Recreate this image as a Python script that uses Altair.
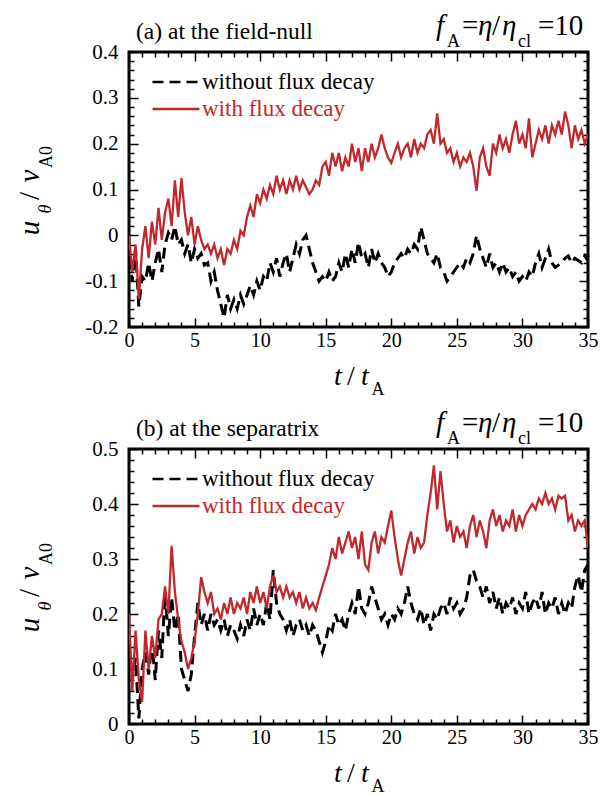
import altair as alt
import pandas as pd

# ---------------- data ----------------
T_STEP = 0.25
t_vals = [round(i * T_STEP, 2) for i in range(141)]

# panel (a) at the field-null
a_with = [
    0.0, -0.08, -0.02, -0.14,
    -0.03, 0.02, -0.05, 0.03,
    -0.02, 0.06, -0.01, 0.05,
    0.08, 0.02, 0.12, 0.04,
    0.125, 0.05, 0.0, 0.04,
    -0.02, 0.02, -0.01, -0.03,
    -0.02, -0.04, -0.02, -0.05,
    -0.03, -0.065, -0.03, -0.04,
    -0.01, -0.03, 0.01, 0.0,
    0.04, 0.065, 0.04, 0.09,
    0.07, 0.1, 0.08, 0.11,
    0.09, 0.13, 0.1, 0.12,
    0.09, 0.12, 0.1, 0.13,
    0.1, 0.12, 0.105, 0.09,
    0.1, 0.12, 0.11, 0.15,
    0.16, 0.13, 0.18, 0.15,
    0.18, 0.14, 0.17, 0.15,
    0.2, 0.16, 0.19, 0.14,
    0.19, 0.16, 0.2, 0.17,
    0.19, 0.22, 0.19, 0.17,
    0.158, 0.18, 0.2, 0.17,
    0.19, 0.2, 0.17, 0.21,
    0.18, 0.2, 0.19, 0.22,
    0.23, 0.2, 0.266, 0.2,
    0.21, 0.18, 0.19, 0.16,
    0.18, 0.15, 0.17, 0.16,
    0.18, 0.15, 0.097, 0.17,
    0.19, 0.15, 0.13, 0.2,
    0.18, 0.22, 0.19, 0.21,
    0.18, 0.22, 0.25, 0.2,
    0.22, 0.19, 0.255, 0.17,
    0.2, 0.23, 0.21, 0.24,
    0.2, 0.24, 0.22, 0.25,
    0.22, 0.27, 0.24, 0.19,
    0.24, 0.21, 0.23, 0.2,
    0.22,
]
a_without = [
    -0.05, -0.1, -0.03, -0.155,
    -0.09, -0.1, -0.06, -0.1,
    -0.06, -0.03, -0.08, -0.02,
    0.005, -0.01, 0.02, -0.02,
    -0.01, -0.04, -0.02, -0.06,
    -0.03, -0.05, -0.04, -0.065,
    -0.06, -0.1, -0.08, -0.12,
    -0.15, -0.18, -0.13, -0.16,
    -0.14, -0.16, -0.13, -0.15,
    -0.13, -0.11, -0.13, -0.1,
    -0.12, -0.09, -0.1, -0.06,
    -0.08, -0.05, -0.09, -0.06,
    -0.04, -0.08, -0.05, -0.02,
    -0.04, -0.01, 0.0, -0.03,
    -0.06, -0.08, -0.1, -0.09,
    -0.1, -0.08, -0.1, -0.09,
    -0.06, -0.08, -0.04, -0.07,
    -0.03, -0.06, -0.015, -0.05,
    -0.04, -0.07, -0.03, -0.06,
    -0.04, -0.06, -0.07, -0.09,
    -0.08, -0.06, -0.05, -0.04,
    -0.05, -0.03, -0.04, -0.02,
    -0.03, 0.018, -0.01, -0.04,
    -0.05, -0.06, -0.04, -0.07,
    -0.08, -0.1, -0.09, -0.08,
    -0.07, -0.06, -0.07, -0.05,
    -0.06, -0.04, 0.0, -0.03,
    -0.05, -0.07, -0.04, -0.07,
    -0.06, -0.08, -0.06, -0.08,
    -0.07, -0.09, -0.08, -0.1,
    -0.09, -0.1, -0.08, -0.09,
    -0.06, -0.04, -0.07, -0.05,
    -0.03, -0.06, -0.07, -0.065,
    -0.06, -0.05, -0.045, -0.06,
    -0.05, -0.055, -0.06, -0.045,
    -0.055,
]

# panel (b) at the separatrix
b_with = [
    0.2, 0.06, 0.17, 0.08,
    0.04, 0.17, 0.1, 0.16,
    0.12, 0.19, 0.2, 0.25,
    0.2, 0.324, 0.24, 0.19,
    0.15, 0.13, 0.1, 0.12,
    0.15, 0.2, 0.267, 0.24,
    0.22, 0.24, 0.2, 0.21,
    0.19, 0.22, 0.2, 0.23,
    0.2, 0.22, 0.21, 0.23,
    0.2, 0.24, 0.22, 0.25,
    0.22, 0.24, 0.21, 0.25,
    0.27, 0.24, 0.25, 0.23,
    0.25, 0.23, 0.24, 0.22,
    0.24, 0.21, 0.23, 0.21,
    0.22, 0.207, 0.23, 0.25,
    0.27, 0.29, 0.32, 0.3,
    0.34, 0.31, 0.33, 0.35,
    0.32, 0.34, 0.3, 0.35,
    0.29, 0.28, 0.33, 0.35,
    0.31, 0.34, 0.33, 0.36,
    0.388, 0.34, 0.3, 0.27,
    0.3, 0.33, 0.35, 0.31,
    0.34, 0.32, 0.33, 0.38,
    0.42, 0.47, 0.39, 0.46,
    0.4, 0.35, 0.37, 0.33,
    0.36, 0.34, 0.35, 0.32,
    0.36, 0.38, 0.34, 0.37,
    0.35, 0.32, 0.37, 0.39,
    0.36, 0.38, 0.35, 0.37,
    0.36, 0.39, 0.35, 0.38,
    0.36, 0.38, 0.39, 0.4,
    0.39, 0.41, 0.4, 0.42,
    0.4, 0.41, 0.39, 0.415,
    0.41, 0.415, 0.37, 0.38,
    0.35, 0.37, 0.36, 0.37,
    0.32,
]
b_without = [
    0.15, 0.08, 0.12, 0.01,
    0.1, 0.13, 0.09, 0.15,
    0.08, 0.17, 0.12, 0.24,
    0.16, 0.23, 0.17, 0.2,
    0.1, 0.08, 0.06, 0.09,
    0.16, 0.22, 0.18, 0.2,
    0.17, 0.2, 0.18, 0.19,
    0.17, 0.19, 0.16, 0.18,
    0.17, 0.155, 0.18, 0.16,
    0.19, 0.17, 0.21, 0.18,
    0.2, 0.18, 0.22, 0.19,
    0.28, 0.22, 0.2, 0.19,
    0.17, 0.19, 0.16, 0.18,
    0.19, 0.17, 0.18, 0.16,
    0.18, 0.17, 0.15, 0.13,
    0.15, 0.18, 0.17, 0.2,
    0.18, 0.19, 0.17, 0.2,
    0.22, 0.2, 0.25, 0.21,
    0.2, 0.22, 0.25, 0.23,
    0.21, 0.19, 0.2, 0.18,
    0.2, 0.19, 0.21, 0.2,
    0.22, 0.25, 0.22, 0.2,
    0.19, 0.21, 0.18, 0.2,
    0.17, 0.2, 0.19, 0.21,
    0.22, 0.2, 0.23, 0.21,
    0.22, 0.2, 0.21, 0.23,
    0.27, 0.28, 0.26, 0.25,
    0.23, 0.25, 0.22, 0.24,
    0.21, 0.23, 0.2, 0.22,
    0.21, 0.23, 0.2, 0.22,
    0.21, 0.24, 0.2, 0.22,
    0.23, 0.21, 0.24, 0.2,
    0.22, 0.21, 0.23, 0.2,
    0.22, 0.2, 0.22, 0.21,
    0.25, 0.27, 0.24, 0.28,
    0.29,
]

SERIES = ["without flux decay", "with flux decay"]
COLORS = ["#000000", "#c0282d"]
TITLE_A = "(a) at the field-null"
TITLE_B = "(b) at the separatrix"
X_MAJOR = [0, 5, 10, 15, 20, 25, 30, 35]
X_MINOR = list(range(0, 36))
Y_A_MAJOR = [-0.2, -0.1, 0.0, 0.1, 0.2, 0.3, 0.4]
Y_A_MINOR = [round(-0.2 + 0.02 * i, 2) for i in range(31)]
Y_B_MAJOR = [0.0, 0.1, 0.2, 0.3, 0.4, 0.5]
Y_B_MINOR = [round(0.02 * i, 2) for i in range(26)]

# ---------------- styling ----------------
SERIF = "Liberation Serif"
W, H = 459, 275


def txt(s, x, y, size, style="normal", angle=0, align="left", color="black"):
    return alt.Chart(pd.DataFrame({"s": [s]})).mark_text(
        font=SERIF, fontSize=size, fontStyle=style, angle=angle,
        align=align, baseline="alphabetic", color=color,
    ).encode(text="s:N", x=alt.value(x), y=alt.value(y))


def annotations(title):
    out = [txt(title, 7, -13, 23.5)]
    # f_A = eta / eta_cl = 10
    main, sub, yb, ys = 29, 18, -17, -5
    out += [
        txt("f", 307, yb, main, "italic"),
        txt("A", 318, ys, sub),
        txt("=", 333, yb, main),
        txt("η", 349, yb, main, "italic"),
        txt("/", 363, yb, main),
        txt("η", 373, yb, main, "italic"),
        txt("cl", 389, ys, sub),
        txt("=10", 409, yb, main),
    ]
    # y title  u_theta / v_A0 (rotated)
    out += [
        txt("u", -90, 176, 29, "italic", 270, "center"),
        txt("θ", -78, 157, 18, "italic", 270, "center"),
        txt("/", -90, 144, 29, "normal", 270, "center"),
        txt("v", -90, 124, 29, "italic", 270, "center"),
        txt("A0", -77, 105, 18, "normal", 270, "center"),
    ]
    # x title  t / t_A
    out += [
        txt("t", 209, 333, 28, "italic", 0, "center"),
        txt("/", 222, 333, 28, "normal", 0, "center"),
        txt("t", 236, 333, 28, "italic", 0, "center"),
        txt("A", 249, 343, 18, "normal", 0, "center"),
    ]
    return out


def tick_axis_x(orient):
    return alt.Axis(
        values=X_MINOR, orient=orient, offset=-H, labels=False, domain=False,
        grid=False, ticks=True, tickColor="black", tickWidth=1.5,
        tickSize={"condition": {"test": "datum.value % 5 === 0", "value": 9}, "value": 5},
    )


def tick_axis_y(orient, minor):
    return alt.Axis(
        values=minor, orient=orient, offset=-W, labels=False, domain=False,
        grid=False, ticks=True, tickColor="black", tickWidth=1.5,
        tickSize={"condition": {"test": "abs(datum.value * 10 - round(datum.value * 10)) < 0.001",
                                "value": 9}, "value": 5},
    )


def panel(with_vals, without_vals, y_dom, y_major, y_minor, title):
    df = pd.DataFrame({
        "t": t_vals + t_vals,
        "v": without_vals + with_vals,
        "series": [SERIES[0]] * len(t_vals) + [SERIES[1]] * len(t_vals),
    })
    base = alt.Chart(df)
    xs = alt.Scale(domain=[0, 35], nice=False, zero=False)
    ys = alt.Scale(domain=y_dom, nice=False, zero=False)
    leg = alt.Legend(
        orient="none", legendX=22, legendY=19, title=None,
        symbolType="stroke", symbolSize=2209, symbolStrokeWidth=2.6,
        labelFont=SERIF, labelFontSize=23, labelOffset=1, rowPadding=4,
        clipHeight=22, padding=0, labelLimit=400,
        labelColor=alt.expr(f"datum.value === '{SERIES[1]}' ? '{COLORS[1]}' : '{COLORS[0]}'"),
    )
    color = alt.Color("series:N", scale=alt.Scale(domain=SERIES, range=COLORS), legend=leg)
    dash = alt.StrokeDash("series:N", scale=alt.Scale(domain=SERIES, range=[[11, 6], [1, 0]]), legend=leg)

    ax_x_lab = alt.Axis(values=X_MAJOR, orient="bottom", ticks=False, domain=False, grid=False,
                        labelFont=SERIF, labelFontSize=20, labelPadding=3, labelColor="black",
                        labelFlush=False, labelOverlap=False)
    ax_y_lab = alt.Axis(values=y_major, orient="left", ticks=False, domain=False, grid=False,
                        labelFont=SERIF, labelFontSize=21, labelPadding=11, labelColor="black",
                        labelFlush=False, labelOverlap=False,
                        labelExpr="'' + round(datum.value * 10) / 10")

    black = base.transform_filter(alt.datum.series == SERIES[0]).mark_line(
        strokeWidth=3, clip=True
    ).encode(
        x=alt.X("t:Q", scale=xs, axis=ax_x_lab, title=None),
        y=alt.Y("v:Q", scale=ys, axis=ax_y_lab, title=None),
        color=color, strokeDash=dash,
    )
    red = base.transform_filter(alt.datum.series == SERIES[1]).mark_line(
        strokeWidth=2.3, clip=True
    ).encode(
        x=alt.X("t:Q", scale=xs, axis=tick_axis_x("top"), title=None),
        y=alt.Y("v:Q", scale=ys, axis=tick_axis_y("right", y_minor), title=None),
        color=color, strokeDash=dash,
    )
    ghost = base.mark_point(opacity=0).encode(
        x=alt.X("t:Q", scale=xs, axis=tick_axis_x("bottom"), title=None),
        y=alt.Y("v:Q", scale=ys, axis=tick_axis_y("left", y_minor), title=None),
    )
    return alt.layer(black, red, ghost, *annotations(title)).resolve_axis(
        x="independent", y="independent"
    ).properties(width=W, height=H)


pa = panel(a_with, a_without, [-0.2, 0.4], Y_A_MAJOR, Y_A_MINOR, TITLE_A)
pb = panel(b_with, b_without, [0.0, 0.5], Y_B_MAJOR, Y_B_MINOR, TITLE_B)

chart = alt.vconcat(pa, pb, spacing=122, bounds="flush").resolve_scale(
    color="independent", strokeDash="independent", x="independent", y="independent"
).resolve_legend(
    color="independent", strokeDash="independent"
).properties(
    padding={"left": 6, "top": 2, "right": 5, "bottom": 8}, background="white"
).configure_view(stroke="black", strokeWidth=3)

chart.save("out.html", embed_options={"renderer": "svg", "actions": False})
